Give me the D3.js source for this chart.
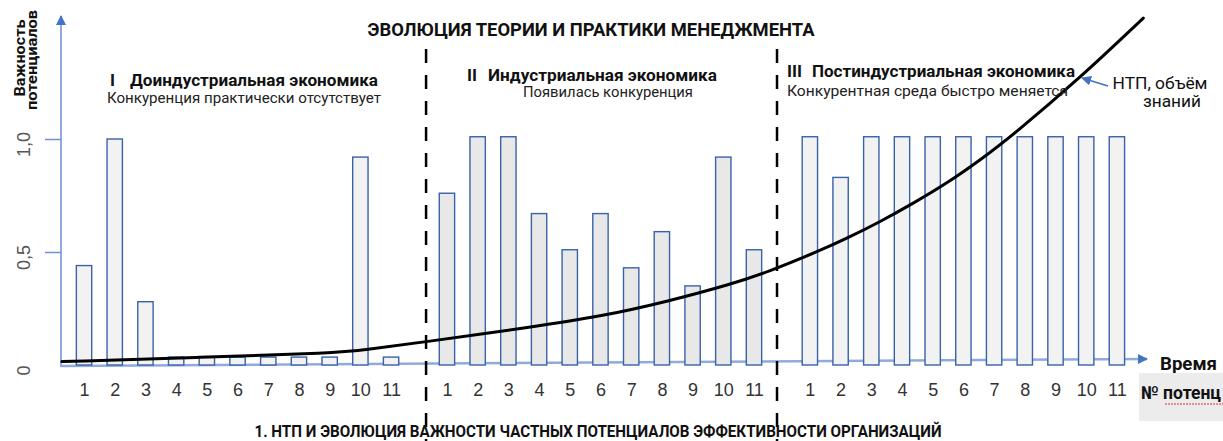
<!DOCTYPE html>
<html>
<head>
<meta charset="utf-8">
<script src="https://cdn.jsdelivr.net/npm/d3@7"></script>
<style>
body { margin: 0; background: #fff; }
svg { display: block; font-family: "Liberation Sans Narrow", "Arial Narrow", "Roboto", sans-serif; }
</style>
</head>
<body>
<svg class="graph-container" width="1223" height="441"></svg>
<script>
// chart data
var potentials = ["1", "2", "3", "4", "5", "6", "7", "8", "9", "10", "11"];
var periods = ["I", "II", "III"];
var periodNames = ["Доиндустриальная экономика", "Индустриальная экономика", "Постиндустриальная экономика"];
var periodNotes = ["Конкуренция практически отсутствует", "Появилась конкуренция", "Конкурентная среда быстро меняется"];

var importanceI = [0.44, 1.0, 0.28, 0.035, 0.035, 0.035, 0.035, 0.035, 0.035, 0.92, 0.035];
var importanceII = [0.76, 1.01, 1.01, 0.67, 0.51, 0.67, 0.43, 0.59, 0.35, 0.92, 0.51];
var importanceIII = [1.01, 0.83, 1.01, 1.01, 1.01, 1.01, 1.01, 1.01, 1.01, 1.01, 1.01];

// НТП curve (time in potential slots, value on the importance scale)
var ntpTime = [0.28, 4.8, 9.18, 10.2, 11.94, 15.63, 17.8, 19.98, 22.14, 23.24, 24.97, 25.84, 26.93, 28.0, 29.1, 30.19, 31.26, 33.44, 35.5];
var ntpValue = [0.015, 0.034, 0.052, 0.069, 0.099, 0.169, 0.214, 0.28, 0.36, 0.41, 0.506, 0.56, 0.634, 0.715, 0.804, 0.907, 1.018, 1.27, 1.535];

var yTickValues = [0, 0.5, 1];
var yTickLabels = ["0", "0,5", "1,0"];
var periodDividers = [12.14, 23.57];

var title = "ЭВОЛЮЦИЯ ТЕОРИИ И ПРАКТИКИ МЕНЕДЖМЕНТА";
var caption = "1. НТП И ЭВОЛЮЦИЯ ВАЖНОСТИ ЧАСТНЫХ ПОТЕНЦИАЛОВ ЭФФЕКТИВНОСТИ ОРГАНИЗАЦИЙ";
var yTitle = ["Важность", "потенциалов"];
var ntpLabel = ["НТП, объём", "знаний"];
var xTitle = "Время";
var xSubTitle = "№ потенц";

var svg = d3.select(".graph-container");
var axisColor = "#8faadc";
var arrowColor = "#4472c4";

var series = [importanceI, importanceII, importanceIII];
var bars = [];
series.forEach(function(vals, p){
	vals.forEach(function(v, i){
		bars.push({ period: p, label: potentials[i], time: p * (potentials.length + 0.82) + i + 1, value: v });
	});
});

var x = d3.scaleLinear().domain([0.25, 35.62]).range([61, 1147]);
var y = d3.scaleLinear().domain([0, 1]).range([365, 139]);
var barW = (x(1) - x(0)) * 0.5;

var defs = svg.append("defs");
defs.append("marker")
	.attr("id", "arr")
	.attr("viewBox", "0 0 10 10")
	.attr("refX", 9).attr("refY", 5)
	.attr("markerWidth", 10).attr("markerHeight", 10)
	.attr("markerUnits", "userSpaceOnUse")
	.attr("orient", "auto")
	.append("path").attr("d", "M0,0L10,5L0,10Z").attr("fill", arrowColor);

// axes
svg.append("line")
	.attr("x1", x(0.25)).attr("y1", y(0) + 2)
	.attr("x2", x(0.25)).attr("y2", 16)
	.attr("stroke", axisColor).attr("stroke-width", 2)
	.attr("marker-end", "url(#arr)");

svg.append("line")
	.attr("x1", x(0.25)).attr("y1", y(0) + 1)
	.attr("x2", x(35.62)).attr("y2", y(0) - 6)
	.attr("stroke", axisColor).attr("stroke-width", 2.5)
	.attr("marker-end", "url(#arr)");

var yAxis = svg.append("g")
	.attr("transform", "translate(" + x(0.25) + ",0)")
	.call(d3.axisLeft(y).tickValues(yTickValues).tickSize(16).tickFormat(function(d, i){ return yTickLabels[i]; }));
yAxis.select(".domain").remove();
yAxis.selectAll(".tick line").attr("stroke", "#6f93d6").attr("stroke-width", 1.5)
	.filter(function(d){ return d === 0; }).remove();
yAxis.selectAll(".tick text")
	.attr("x", null).attr("dy", null)
	.attr("transform", "translate(-31,5) rotate(-90)")
	.attr("text-anchor", "middle")
	.attr("fill", "#555")
	.style("font-size", "18px");

var xAxis = svg.append("g")
	.attr("transform", "translate(0," + y(0) + ")")
	.call(d3.axisBottom(x).tickValues(bars.map(function(d){ return d.time; })).tickSize(0).tickPadding(18)
		.tickFormat(function(d, i){ return bars[i].label; }));
xAxis.select(".domain").remove();
xAxis.selectAll("text").attr("fill", "#333").style("font-size", "18px");

// bars
svg.append("g").selectAll("rect")
	.data(bars)
	.enter().append("rect")
	.attr("x", function(d){ return x(d.time) - barW / 2; })
	.attr("y", function(d){ return y(d.value); })
	.attr("width", barW)
	.attr("height", function(d){ return y(0) - y(d.value); })
	.attr("fill", function(d){ return d.period === 1 ? "#e8e8e8" : "#f2f2f2"; })
	.attr("stroke", "#3a62a8")
	.attr("stroke-width", 1.4);

// dividers
svg.append("g").selectAll("line")
	.data(periodDividers)
	.enter().append("line")
	.attr("x1", function(d){ return x(d); }).attr("x2", function(d){ return x(d); })
	.attr("y1", 49).attr("y2", 441)
	.attr("stroke", "#000").attr("stroke-width", 2.5)
	.attr("stroke-dasharray", "14,12");

// НТП curve
var line = d3.line()
	.x(function(d, i){ return x(ntpTime[i]); })
	.y(function(d){ return y(d); })
	.curve(d3.curveBasis);

svg.append("path")
	.datum(ntpValue)
	.attr("fill", "none")
	.attr("stroke", "#000")
	.attr("stroke-width", 3)
	.attr("stroke-linecap", "round")
	.attr("d", line);

function label(px, py, txt, size, weight, anchor, len){
	var t = svg.append("text")
		.attr("x", px).attr("y", py)
		.attr("text-anchor", anchor || "start")
		.attr("fill", "#111")
		.style("font-size", size + "px")
		.style("font-weight", weight || "normal")
		.text(txt);
	if(len){ t.attr("textLength", len).attr("lengthAdjust", "spacingAndGlyphs"); }
	return t;
}

label(591, 36, title, 18, "bold", "middle", 447);

var numX = [110, 467, 787], nameX = [130, 488, 812], nameLen = [248, 229, 263], nameY = [86, 81, 77];
var noteX = [107, 523, 787], noteLen = [274, 170, 281], noteY = [103, 97, 96];
periods.forEach(function(p, i){
	label(numX[i], nameY[i], p, 17, "bold");
	label(nameX[i], nameY[i], periodNames[i], 17, "bold", "start", nameLen[i]);
	label(noteX[i], noteY[i], periodNotes[i], 15, "normal", "start", noteLen[i]).attr("fill", "#222");
});

// НТП annotation
var k = 17;
svg.append("line")
	.attr("x1", 1108).attr("y1", 86)
	.attr("x2", x(ntpTime[k]) + 2).attr("y2", y(ntpValue[k]))
	.attr("stroke", arrowColor).attr("stroke-width", 1.6)
	.attr("marker-end", "url(#arr)");
label(1160, 89, ntpLabel[0], 16, "normal", "middle", 95);
label(1172, 107, ntpLabel[1], 16, "normal", "middle", 58);

// y title
svg.append("text")
	.attr("transform", "translate(25,58) rotate(-90)")
	.attr("text-anchor", "middle").attr("fill", "#111")
	.style("font-size", "15px").style("font-weight", "bold")
	.attr("textLength", 77).attr("lengthAdjust", "spacingAndGlyphs")
	.text(yTitle[0]);
svg.append("text")
	.attr("transform", "translate(37,60) rotate(-90)")
	.attr("text-anchor", "middle").attr("fill", "#111")
	.style("font-size", "15px").style("font-weight", "bold")
	.attr("textLength", 100).attr("lengthAdjust", "spacingAndGlyphs")
	.text(yTitle[1]);

// x titles
label(1160, 370, xTitle, 18, "bold", "start", 57);
svg.append("rect")
	.attr("x", 1139).attr("y", 373).attr("width", 84).attr("height", 48)
	.attr("fill", "#ececec");
label(1141, 399, xSubTitle, 18, "bold", "start", 80);
svg.append("line")
	.attr("x1", 1165).attr("x2", 1223).attr("y1", 404).attr("y2", 404)
	.attr("stroke", "#e03030").attr("stroke-width", 1.2)
	.attr("stroke-dasharray", "2,1");

label(598, 437, caption, 16, "bold", "middle", 687);
</script>
</body>
</html>
